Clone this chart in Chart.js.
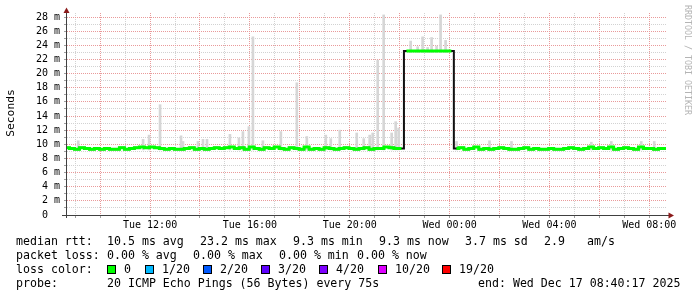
<!DOCTYPE html>
<html>
<head>
<meta charset="utf-8">
<script src="https://cdn.jsdelivr.net/npm/chart.js@4.4.1/dist/chart.umd.min.js"></script>
<style>
    html, body { margin: 0; padding: 0; background: #fff; }
</style>
</head>
<body>
<canvas id="myChart" width="697" height="297"></canvas>
<script>
const MONO = '"DejaVu Sans Mono", monospace';

// median rtt (ms), one sample every 12 minutes from Tue 08:40 to Wed 08:40
const medianStart = 8.6714; // hours since Tue 00:00
const medianStep = 0.2;
const medianRtt = [
    9.5, 9.4, 9.3, 9.5, 9.4, 9.3, 9.4, 9.3, 9.4, 9.3,
    9.3, 9.5, 9.3, 9.4, 9.5, 9.6, 9.5, 9.6, 9.5, 9.4,
    9.3, 9.4, 9.3, 9.3, 9.4, 9.5, 9.3, 9.4, 9.3, 9.4,
    9.5, 9.4, 9.5, 9.6, 9.4, 9.5, 9.3, 9.6, 9.4, 9.3,
    9.5, 9.4, 9.6, 9.4, 9.3, 9.5, 9.4, 9.3, 9.6, 9.3,
    9.4, 9.3, 9.5, 9.4, 9.3, 9.4, 9.5, 9.4, 9.3, 9.4,
    9.5, 9.3, 9.4, 9.4, 9.6, 9.5, 9.4, 9.4, 23.2, 23.2,
    23.2, 23.2, 23.2, 23.2, 23.2, 23.2, 23.2, 23.2, 9.4, 9.5,
    9.3, 9.4, 9.6, 9.3, 9.4, 9.3, 9.4, 9.5, 9.4, 9.3,
    9.3, 9.4, 9.5, 9.3, 9.4, 9.3, 9.3, 9.4, 9.3, 9.3,
    9.4, 9.5, 9.4, 9.3, 9.4, 9.6, 9.4, 9.5, 9.4, 9.6,
    9.3, 9.4, 9.5, 9.4, 9.3, 9.6, 9.4, 9.4, 9.3, 9.4,
    9.4
];

// smoke spikes: time (hours since Tue 00:00), lowest and highest ping (ms)
const smokeTimes = [
    9.12, 11.72, 11.96, 12.40, 13.24, 13.32, 13.92, 14.12, 14.28, 15.20,
    15.56, 15.72, 15.96, 16.12, 16.52, 17.24, 17.88, 18.28, 19.04, 19.24,
    19.60, 20.28, 20.56, 20.80, 20.92, 21.12, 21.36, 21.68, 21.84, 21.96,
    22.44, 22.72, 22.92, 23.12, 23.28, 23.48, 23.64, 23.84, 24.28, 25.60,
    26.48, 29.68, 30.48, 31.68, 32.20
];
const smokeLow = [
    9.2, 9.2, 9.2, 9.2, 9.2, 9.2, 9.2, 9.2, 9.2, 9.2,
    9.2, 9.2, 9.2, 9.2, 9.2, 9.2, 9.2, 9.2, 9.2, 9.2,
    9.2, 9.2, 9.2, 9.2, 9.2, 9.2, 9.2, 9.2, 9.2, 9.2,
    23.0, 23.0, 23.0, 23.0, 23.0, 23.0, 23.0, 23.0, 9.2, 9.2,
    9.2, 9.2, 9.2, 9.2, 9.2
];
const smokeHigh = [
    10.5, 10.7, 11.3, 15.6, 11.2, 10.4, 10.4, 10.7, 10.7, 11.4,
    10.9, 11.8, 12.5, 25.2, 10.5, 11.8, 18.7, 11.1, 11.3, 10.8,
    12.0, 11.6, 10.8, 11.3, 11.6, 21.9, 28.3, 11.6, 13.2, 12.3,
    24.6, 23.8, 25.2, 23.7, 25.1, 23.9, 28.3, 24.7, 10.4, 10.5,
    10.4, 10.3, 10.4, 10.4, 10.4
];

const xTickHours = [12, 16, 20, 24, 28, 32];
const xTickLabels = ['Tue 12:00', 'Tue 16:00', 'Tue 20:00', 'Wed 00:00', 'Wed 04:00', 'Wed 08:00'];

const lossLabels = ['0', '1/20', '2/20', '3/20', '4/20', '10/20', '19/20'];
const lossColors = ['#00ff00', '#00b8ff', '#0059ff', '#5e00ff', '#7e00ff', '#dd00ff', '#ff0000'];

const statRtt = ['median rtt:', '10.5 ms avg', '23.2 ms max', '9.3 ms min', '9.3 ms now', '3.7 ms sd', '2.9', 'am/s'];
const statLoss = ['packet loss:', '0.00 % avg', '0.00 % max', '0.00 % min', '0.00 % now'];
const probeText = ['probe:', '20 ICMP Echo Pings (56 Bytes) every 75s', 'end: Wed Dec 17 08:40:17 2025'];

const MAJOR = '#e99a9a';
const MINOR = '#d2d2d2';

const medianPoints = medianRtt.map((v, i) => ({x: medianStart + i * medianStep, y: v}));
const smokePoints = smokeTimes.map((t, i) => ({x: t, y: [smokeLow[i], smokeHigh[i]]}));

const rrdDecor = {
    id: 'rrdDecor',
    beforeDraw(chart) {
        const ctx = chart.ctx;
        ctx.save();
        ctx.fillStyle = '#fff';
        ctx.fillRect(0, 0, chart.width, chart.height);
        ctx.restore();
    },
    afterDraw(chart) {
        const ctx = chart.ctx;
        const a = chart.chartArea;
        ctx.save();

        // axes
        ctx.strokeStyle = '#404040';
        ctx.lineWidth = 1;
        ctx.beginPath();
        ctx.moveTo(66.5, a.bottom + 3);
        ctx.lineTo(66.5, 11);
        ctx.moveTo(62, a.bottom + 0.5);
        ctx.lineTo(670, a.bottom + 0.5);
        ctx.stroke();

        // arrows
        ctx.fillStyle = '#8b1a1a';
        ctx.beginPath();
        ctx.moveTo(63.5, 13);
        ctx.lineTo(69.5, 13);
        ctx.lineTo(66.5, 7.5);
        ctx.closePath();
        ctx.fill();
        ctx.beginPath();
        ctx.moveTo(668.5, a.bottom - 2.5);
        ctx.lineTo(668.5, a.bottom + 3.5);
        ctx.lineTo(674, a.bottom + 0.5);
        ctx.closePath();
        ctx.fill();

        // y title
        ctx.fillStyle = '#000';
        ctx.font = '11.3px ' + MONO;
        ctx.textAlign = 'center';
        ctx.textBaseline = 'middle';
        ctx.save();
        ctx.translate(11, 113);
        ctx.rotate(-Math.PI / 2);
        ctx.fillText('Seconds', 0, 0);
        ctx.restore();

        // watermark
        ctx.save();
        ctx.fillStyle = '#b4b4b4';
        ctx.font = '8.3px ' + MONO;
        ctx.textAlign = 'left';
        ctx.textBaseline = 'alphabetic';
        ctx.translate(685, 5);
        ctx.rotate(Math.PI / 2);
        ctx.fillText('RRDTOOL / TOBI OETIKER', 0, 0);
        ctx.restore();

        // legend lines
        ctx.fillStyle = '#000';
        ctx.font = '11.6px ' + MONO;
        ctx.textAlign = 'left';
        ctx.textBaseline = 'alphabetic';
        const rttX = [16, 107, 200, 293, 379, 465, 544, 587];
        statRtt.forEach((s, i) => ctx.fillText(s, rttX[i], 245));
        const lossX = [16, 107, 193, 279, 357];
        statLoss.forEach((s, i) => ctx.fillText(s, lossX[i], 259));
        ctx.fillText('loss color:', 16, 273);
        const boxX = [107, 145, 203, 261, 319, 378, 442];
        lossLabels.forEach((lbl, i) => {
            ctx.fillStyle = lossColors[i];
            ctx.fillRect(boxX[i], 265, 9, 9);
            ctx.strokeStyle = '#000';
            ctx.strokeRect(boxX[i] + 0.5, 265.5, 8, 8);
            ctx.fillStyle = '#000';
            ctx.fillText(lbl, boxX[i] + 17, 273);
        });
        const probeX = [16, 107, 478];
        probeText.forEach((s, i) => ctx.fillText(s, probeX[i], 287));

        ctx.restore();
    }
};

const ctx = document.getElementById('myChart');

const myChart = new Chart(ctx, {
    type: 'line',
    data: {
        datasets: [{
            label: 'median',
            data: medianPoints,
            borderColor: '#00ff00',
            borderWidth: 3,
            pointRadius: 0,
            stepped: 'middle',
            order: 0,
            segment: {
                borderColor: c => Math.abs(c.p1.parsed.y - c.p0.parsed.y) > 3 ? 'rgba(0,0,0,0)' : undefined
            }
        }, {
            label: 'median step',
            data: medianPoints,
            borderColor: '#111',
            borderWidth: 2,
            pointRadius: 0,
            stepped: 'middle',
            order: 1
        }, {
            type: 'bar',
            label: 'smoke',
            data: smokePoints,
            backgroundColor: '#d6d6d6',
            borderWidth: 0,
            barThickness: 2,
            order: 2
        }]
    },
    options: {
        responsive: false,
        animation: false,
        devicePixelRatio: 1,
        layout: {padding: {left: 0, top: 13, right: 31, bottom: 0}},
        plugins: {
            legend: {display: false},
            tooltip: {enabled: false}
        },
        scales: {
            x: {
                type: 'linear',
                min: 8.6714,
                max: 32.6714,
                offset: false,
                afterBuildTicks: scale => {
                    const t = [];
                    for (let h = 9; h <= 32; h++) t.push({value: h});
                    scale.ticks = t;
                },
                afterFit: scale => { scale.height = 82; },
                grid: {
                    offset: false,
                    color: c => (c.tick && c.tick.value % 2 === 0) ? MAJOR : MINOR,
                    tickLength: 3,
                    tickColor: '#a0a0a0'
                },
                border: {display: false, dash: [1, 1]},
                ticks: {
                    autoSkip: false,
                    maxRotation: 0,
                    padding: 1,
                    color: '#000',
                    font: {family: MONO, size: 10},
                    callback: value => {
                        const k = xTickHours.indexOf(value);
                        return k >= 0 ? xTickLabels[k] : '';
                    }
                }
            },
            y: {
                min: 0,
                max: 28.57,
                afterBuildTicks: scale => {
                    const t = [];
                    for (let v = 0; v <= 28; v++) t.push({value: v});
                    scale.ticks = t;
                },
                afterFit: scale => { scale.width = 67; },
                grid: {
                    color: c => (c.tick && c.tick.value % 2 === 0) ? MAJOR : MINOR,
                    tickLength: 3,
                    tickColor: '#a0a0a0'
                },
                border: {display: false, dash: [1, 1]},
                ticks: {
                    autoSkip: false,
                    padding: 4,
                    color: '#000',
                    font: {family: MONO, size: 10},
                    callback: value => value % 2 !== 0 ? '' : (value === 0 ? '0  ' : value + ' m')
                }
            }
        }
    },
    plugins: [rrdDecor]
});
</script>
</body>
</html>
